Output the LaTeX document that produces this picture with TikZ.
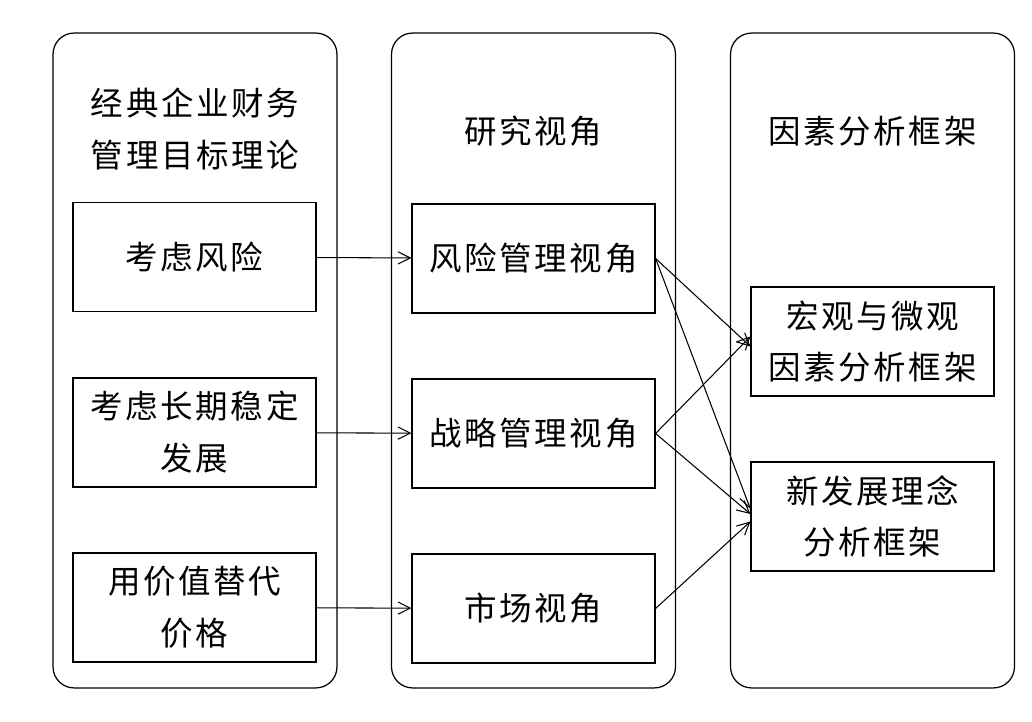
\documentclass[tikz,border=0pt]{standalone}
\usepackage{fontspec}
\setmainfont{Noto Sans CJK SC}[LetterSpace=8]
\usetikzlibrary{positioning}
\usetikzlibrary{arrows.meta}
\tikzstyle{column}=[draw, line width=0.7pt, rounded corners=12pt, minimum width=5.68cm, minimum height=13.1cm, inner sep=0]
\tikzstyle{box}=[draw, line width=0.7pt, minimum width=4.86cm, minimum height=2.18cm, align=center, inner sep=0,
                 font=\fontsize{18.5}{29.5}\selectfont]
\tikzstyle{title}=[align=center, font=\fontsize{18.5}{29.5}\selectfont]
\tikzstyle{link}=[-{Straight Barb[length=7pt, width=7pt]}, line width=0.6pt]
\begin{document}
\begin{tikzpicture}[x=0.02cm, y=-0.02cm]
        \useasboundingbox (0, 0) rectangle (1032, 722);
        % columns
        \node[column] (C1) at (195, 360.5) {};
        \node[column] (C2) at (533.5, 360.5) {};
        \node[column] (C3) at (872.5, 360.5) {};
        \node[title] (T1) at (195, 129) {经典企业财务\\管理目标理论};
        \node[title] (T2) at (533.5, 131) {研究视角};
        \node[title] (T3) at (872.5, 131) {因素分析框架};
        % left
        \node[box] (L1) at (194.5, 257) {考虑风险};
        \node[box] (L2) at (194.5, 432.5) {考虑长期稳定\\发展};
        \node[box] (L3) at (194.5, 607.5) {用价值替代\\价格};
        % middle
        \node[box] (M1) at (533.5, 258.5) {风险管理视角};
        \node[box] (M2) at (533.5, 433.5) {战略管理视角};
        \node[box] (M3) at (533.5, 608.5) {市场视角};
        % right
        \node[box] (R1) at (872.5, 341.5) {宏观与微观\\因素分析框架};
        \node[box] (R2) at (872.5, 516.5) {新发展理念\\分析框架};
        \draw[link] (L1) -- (M1);
        \draw[link] (L2) -- (M2);
        \draw[link] (L3) -- (M3);
        \draw[link] (M1.east) -- ([yshift=-0.1cm]R1.west);
        \draw[link] (M1.east) -- ([yshift=0.15cm]R2.west);
        \draw[link] (M2.east) -- ([yshift=0.1cm]R1.west);
        \draw[link] (M2.east) -- ([yshift=0.05cm]R2.west);
        \draw[link] (M3.east) -- ([yshift=-0.1cm]R2.west);
\end{tikzpicture}
\end{document}
